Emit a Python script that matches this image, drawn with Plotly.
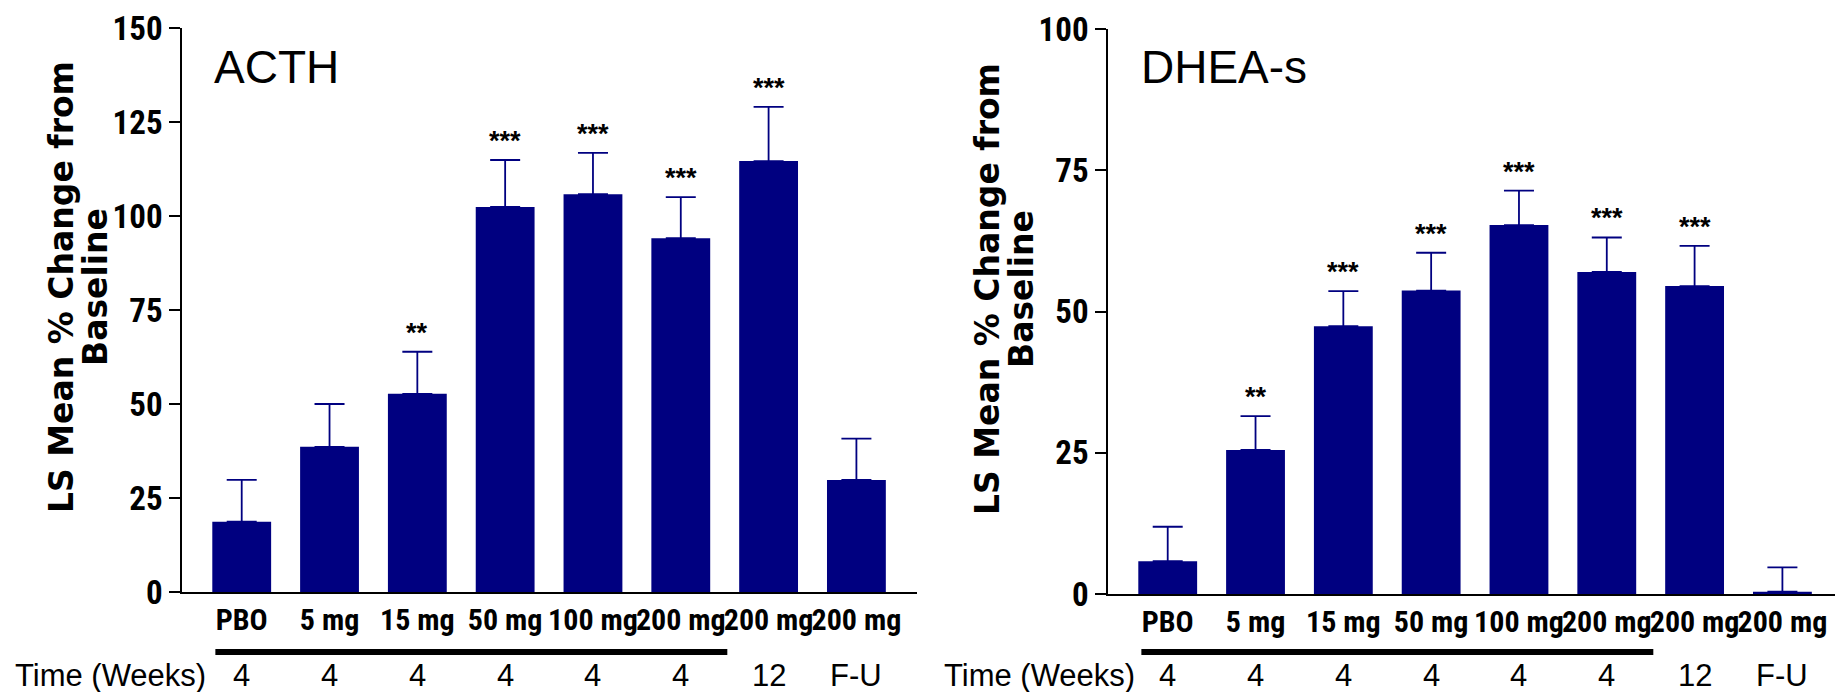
import plotly.graph_objects as go

# ---------------- data ----------------
categories = ["PBO", "5 mg", "15 mg", "50 mg", "100 mg", "200 mg", "200 mg", "200 mg"]
time_labels = ["4", "4", "4", "4", "4", "4", "12", "F-U"]

acth_mean = [18.7, 38.6, 52.7, 102.4, 105.8, 94.1, 114.6, 29.8]
acth_err = [11.1, 11.4, 11.2, 12.5, 11.0, 10.9, 14.4, 11.0]
acth_sig = ["", "", "**", "***", "***", "***", "***", ""]

dhea_mean = [5.8, 25.5, 47.4, 53.7, 65.3, 57.0, 54.5, 0.4]
dhea_err = [6.1, 6.0, 6.2, 6.7, 6.1, 6.1, 7.1, 4.3]
dhea_sig = ["", "**", "***", "***", "***", "***", "***", ""]

panel_titles = ["ACTH", "DHEA-s"]
y_title_lines = ["LS Mean % Change from", "Baseline"]
time_title = "Time (Weeks)"
acth_ticks = [0, 25, 50, 75, 100, 125, 150]
dhea_ticks = [0, 25, 50, 75, 100]
underline_span = (0, 5)  # categories covered by the 4-week underline

# ---------------- style ----------------
PAGE_W, PAGE_H = 1843, 692
OFF = 8  # default page body margin
W, H = PAGE_W - OFF, PAGE_H - OFF
NAVY = "#000080"
NARROW = "Liberation Sans Narrow, Arial Narrow, Roboto Condensed, sans-serif"
REG = "Liberation Sans, Arial, sans-serif"
TITLE_FONT = "DejaVu Sans, sans-serif"

def px_x(p):
    return (p - OFF) / W

def px_y(p):
    return 1 - (p - OFF) / H

xs = list(range(len(categories)))

fig = go.Figure()

panels = [
    dict(mean=acth_mean, err=acth_err, sig=acth_sig, ticks=acth_ticks, ymax=150,
         xdom=[px_x(182), px_x(917)], ydom=[px_y(592), px_y(28)],
         ytitle_x=[61, 95], ytitle_y=287, title_x=215, time_x=13, ax=""),
    dict(mean=dhea_mean, err=dhea_err, sig=dhea_sig, ticks=dhea_ticks, ymax=100,
         xdom=[px_x(1108), 1.0], ydom=[px_y(594), px_y(29)],
         ytitle_x=[987, 1021], ytitle_y=289, title_x=1142, time_x=942, ax="2"),
]

annotations = []
shapes = []

for i, p in enumerate(panels):
    ax = p["ax"]
    xref = "x" + ax
    yref = "y" + ax
    fig.add_trace(go.Bar(
        x=xs, y=p["mean"], width=0.67,
        marker=dict(color=NAVY, line=dict(width=0)),
        error_y=dict(type="data", symmetric=False, array=p["err"],
                     arrayminus=[0] * len(xs), color=NAVY, thickness=1.8, width=15),
        xaxis=xref, yaxis=yref, showlegend=False, hoverinfo="skip",
    ))
    xkey = "xaxis" + ax
    ykey = "yaxis" + ax
    fig.update_layout(**{
        xkey: dict(domain=p["xdom"], anchor=yref, range=[-0.68, 7.69],
                   tickmode="array", tickvals=xs, ticktext=categories, tickangle=0,
                   ticks="", ticklen=0, ticklabeloverflow="allow",
                   tickfont=dict(family=NARROW, size=30, color="black", weight="bold"),
                   showline=True, linecolor="black", linewidth=1.5, automargin=False,
                   showgrid=False, zeroline=False, fixedrange=True),
        ykey: dict(domain=p["ydom"], anchor=xref, range=[0, p["ymax"]],
                   tickmode="array", tickvals=p["ticks"], ticklabeloverflow="allow",
                   ticks="outside", ticklen=11, tickwidth=1.5, tickcolor="black",
                   tickfont=dict(family=NARROW, size=33, color="black", weight="bold"),
                   showline=True, linecolor="black", linewidth=1.5, automargin=False,
                   showgrid=False, zeroline=False, fixedrange=True),
    })
    # significance stars
    for xi, m, e, s in zip(xs, p["mean"], p["err"], p["sig"]):
        if s:
            annotations.append(dict(x=xi, y=m + e, xref=xref, yref=yref, text=s,
                                    showarrow=False, xanchor="center", yanchor="middle",
                                    yshift=19,
                                    font=dict(family=REG, size=27, color="black", weight="bold")))
    # time row
    for xi, t in zip(xs, time_labels):
        annotations.append(dict(x=xi, y=px_y(675), xref=xref, yref="paper", text=t,
                                showarrow=False, xanchor="center", yanchor="middle",
                                font=dict(family=REG, size=31, color="black")))
    annotations.append(dict(x=px_x(p["time_x"]), y=px_y(675), xref="paper", yref="paper",
                            text=time_title, showarrow=False, xanchor="left", yanchor="middle",
                            font=dict(family=REG, size=31, color="black")))
    # panel title
    annotations.append(dict(x=px_x(p["title_x"] - 3), y=px_y(67), xref="paper", yref="paper",
                            text=panel_titles[i], showarrow=False, xanchor="left", yanchor="middle",
                            font=dict(family=REG, size=46, color="black")))
    # y axis title (two centred lines)
    for line, lx in zip(y_title_lines, p["ytitle_x"]):
        annotations.append(dict(x=px_x(lx), y=px_y(p["ytitle_y"]), xref="paper", yref="paper",
                                text=line, textangle=-90, showarrow=False,
                                xanchor="center", yanchor="middle",
                                font=dict(family=TITLE_FONT, size=33, color="black", weight="bold")))
    # 4-week underline
    shapes.append(dict(type="line", xref=xref, yref="paper",
                       x0=underline_span[0] - 0.3, x1=underline_span[1] + 0.53,
                       y0=px_y(652), y1=px_y(652),
                       line=dict(color="black", width=6)))

fig.update_layout(
    width=W, height=H,
    margin=dict(l=0, r=0, t=0, b=0, autoexpand=False),
    paper_bgcolor="white", plot_bgcolor="white",
    annotations=annotations, shapes=shapes,
    bargap=0.33,
)

fig.write_html("out.html")
